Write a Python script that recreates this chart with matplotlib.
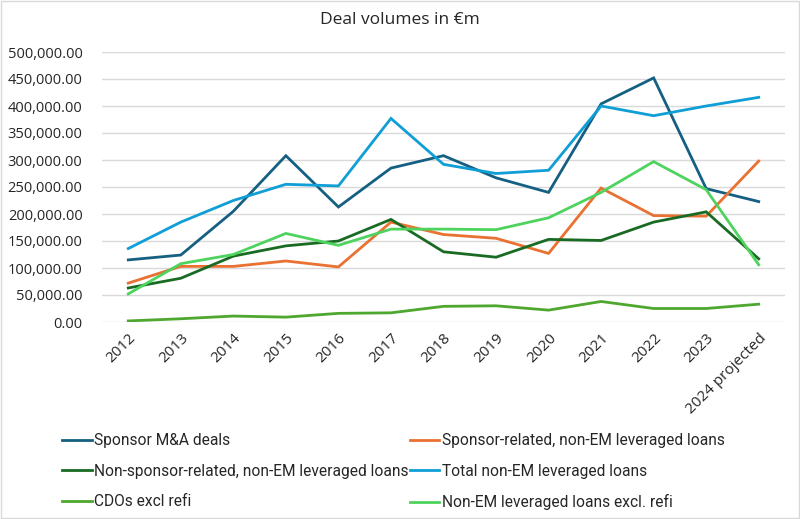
import matplotlib
matplotlib.use("Agg")
import matplotlib.pyplot as plt
from matplotlib.ticker import FuncFormatter
from matplotlib.patches import Rectangle

years = ["2012", "2013", "2014", "2015", "2016", "2017", "2018",
         "2019", "2020", "2021", "2022", "2023", "2024 projected"]

sponsor_ma = [115000, 124000, 205000, 308000, 213000, 285000, 308000,
              267000, 240000, 404000, 452000, 247000, 223000]
sponsor_rel = [72000, 103000, 103000, 113000, 102000, 185000, 162000,
               155000, 127000, 248000, 197000, 196000, 298000]
non_sponsor = [63000, 81000, 122000, 141000, 150000, 190000, 130000,
               120000, 153000, 151000, 185000, 204000, 117000]
total_non_em = [136000, 185000, 225000, 255000, 252000, 377000, 292000,
                275000, 281000, 400000, 382000, 400000, 416000]
cdos = [2000, 6000, 11000, 9000, 16000, 17000, 29000,
        30000, 22000, 38000, 25000, 25000, 33000]
non_em_excl = [52000, 108000, 125000, 164000, 142000, 172000, 172000,
               171000, 193000, 240000, 297000, 245000, 106000]

series = [
    ("Sponsor M&A deals", sponsor_ma, "#156082"),
    ("Sponsor-related, non-EM leveraged loans", sponsor_rel, "#E97132"),
    ("Non-sponsor-related, non-EM leveraged loans", non_sponsor, "#196B24"),
    ("Total non-EM leveraged loans", total_non_em, "#0F9ED5"),
    ("CDOs excl refi", cdos, "#4EA72E"),
    ("Non-EM leveraged loans excl. refi", non_em_excl, "#4ED35E"),
]

plt.rcParams['font.family'] = ['Open Sans', 'DejaVu Sans']

fig = plt.figure(figsize=(8, 5.19), dpi=100)
ax = fig.add_axes([102/800, 1-322/519, 683/800, 270/519])

x = list(range(len(years)))
handles = {}
for name, vals, col in series:
    h, = ax.plot(x, vals, color=col, lw=2.0, solid_joinstyle='miter', label=name)
    handles[name] = h

ax.set_xlim(-0.5, len(years) - 0.5)
ax.set_ylim(0, 500000)
ax.set_yticks(range(0, 500001, 50000))
ax.yaxis.set_major_formatter(FuncFormatter(lambda v, p: f"{v:,.2f}"))
ax.set_xticks(x)
ax.set_xticklabels(years, rotation=45, ha='right', rotation_mode='anchor')
ax.grid(axis='y', color='#d9d9d9', lw=1)
ax.set_axisbelow(True)
for s in ax.spines.values():
    s.set_visible(False)
ax.tick_params(length=0, labelsize=10.5, colors='#262626')
ax.tick_params(axis='y', pad=14)
ax.tick_params(axis='x', labelsize=11, pad=6)

fig.text(0.5, 1-20/519, "Deal volumes in €m", ha='center', va='center',
         fontsize=12.5, color='#262626')

order = ["Sponsor M&A deals", "Non-sponsor-related, non-EM leveraged loans",
         "CDOs excl refi", "Sponsor-related, non-EM leveraged loans",
         "Total non-EM leveraged loans", "Non-EM leveraged loans excl. refi"]
leg = fig.legend([handles[n] for n in order], order, ncol=2,
                 loc='upper left', bbox_to_anchor=(62/800, 1-433/519),
                 frameon=False, borderpad=0, borderaxespad=0,
                 prop={'family': ['Roboto', 'Open Sans'], 'size': 11.2},
                 handlelength=1.9, handletextpad=0.15, columnspacing=0.1,
                 labelspacing=1.0, labelcolor='#262626')

fig.patches.append(Rectangle((0.001, 0.001), 0.998, 0.997, transform=fig.transFigure,
                             fill=False, edgecolor='#d9d9d9', lw=1))

fig.savefig("out.png", dpi=100)
